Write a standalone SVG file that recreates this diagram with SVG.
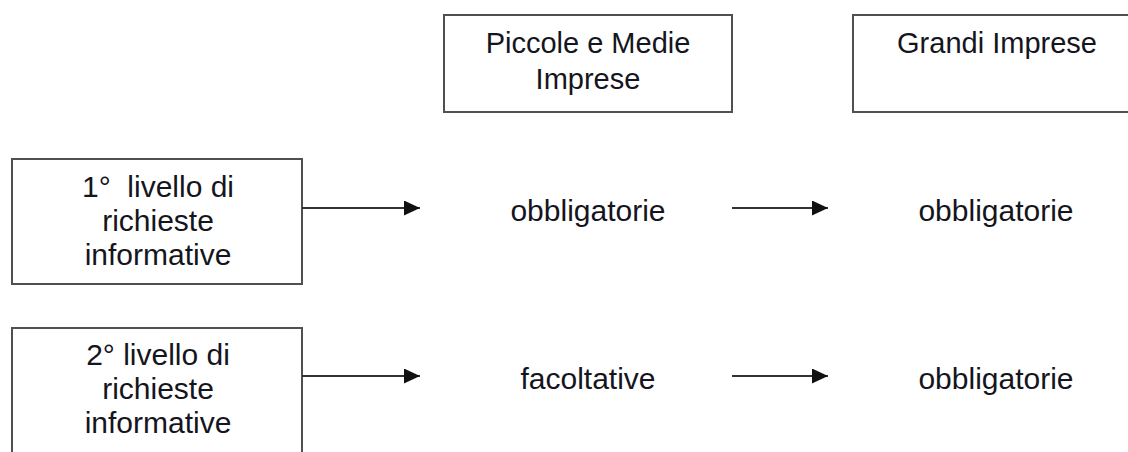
<svg xmlns="http://www.w3.org/2000/svg" width="1128" height="452" viewBox="0 0 1128 452">
<style>
.box{fill:#fff;stroke:#505050;stroke-width:2}
.t{font-family:"Liberation Sans",Arial,sans-serif;font-size:29px;fill:#151520;text-anchor:middle}
.l{font-size:30px}
.conn{stroke:#333;stroke-width:2;fill:none}
</style>
<defs>
<marker id="ah" markerWidth="16" markerHeight="15" refX="16" refY="7.5" orient="auto" markerUnits="userSpaceOnUse">
<path d="M0,0 L16,7.5 L0,15 Z" fill="#111"/>
</marker>
</defs>
<rect width="1128" height="452" fill="#fff"/>
<g id="pmi">
<rect class="box" x="444" y="15" width="288" height="97"/>
<text class="t" x="588" y="53">Piccole e Medie</text>
<text class="t" x="588" y="89">Imprese</text>
</g>
<g id="grandi">
<rect class="box" x="853" y="15" width="290" height="97"/>
<text class="t" x="997" y="53">Grandi Imprese</text>
</g>
<g id="livello1">
<rect class="box" x="12" y="159" width="290" height="125"/>
<text class="t l" x="158" y="197">1°&#160; livello di</text>
<text class="t l" x="158" y="231">richieste</text>
<text class="t l" x="158" y="265">informative</text>
</g>
<g id="livello2">
<rect class="box" x="12" y="328" width="290" height="140"/>
<text class="t l" x="158" y="365">2° livello di</text>
<text class="t l" x="158" y="399">richieste</text>
<text class="t l" x="158" y="433">informative</text>
</g>
<g id="obbl1"><text class="t l" x="588" y="221">obbligatorie</text></g>
<g id="obbl2"><text class="t l" x="996" y="221">obbligatorie</text></g>
<g id="facolt"><text class="t l" x="588" y="389">facoltative</text></g>
<g id="obbl3"><text class="t l" x="996" y="389">obbligatorie</text></g>
<g id="connectors">
<line class="conn" x1="302" y1="208" x2="420" y2="208" marker-end="url(#ah)"/>
<line class="conn" x1="302" y1="376" x2="420" y2="376" marker-end="url(#ah)"/>
<line class="conn" x1="732" y1="208" x2="828" y2="208" marker-end="url(#ah)"/>
<line class="conn" x1="732" y1="376" x2="828" y2="376" marker-end="url(#ah)"/>
</g>
</svg>
